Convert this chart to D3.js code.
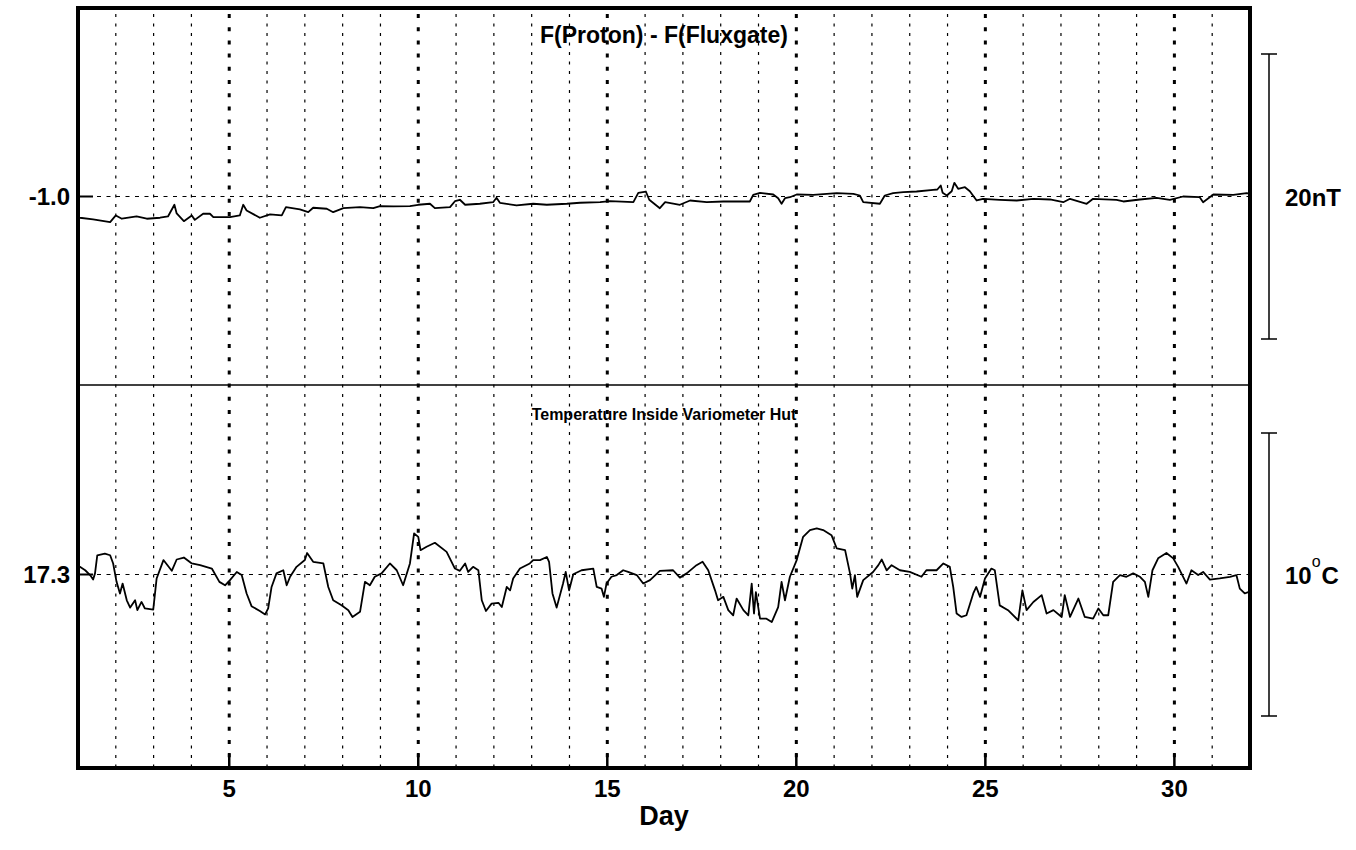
<!DOCTYPE html>
<meta charset="utf-8">
<html>
<style>
body { margin: 0; background: #fff; }
svg { display: block; }
text { font-family: Arial, "Liberation Sans", Helvetica, sans-serif; font-weight: bold; fill: #000; }
</style>
<svg width="1356" height="850"></svg>
<script src="https://d3js.org/d3.v7.min.js"></script>
<script>
// F(Proton) - F(Fluxgate) in nT, [day, value]
var diffSeries = [
  [1.00,-2.45],[1.05,-2.49],[1.40,-2.61],[1.85,-2.80],[2.00,-2.33],[2.16,-2.56],[2.55,-2.40],[2.82,-2.56],
  [3.17,-2.49],[3.38,-2.40],[3.55,-1.58],[3.61,-2.19],[3.80,-2.73],[4.01,-2.33],[4.09,-2.64],[4.31,-2.21],
  [4.49,-2.21],[4.58,-2.45],[5.02,-2.45],[5.28,-2.33],[5.37,-1.58],[5.46,-1.98],[5.81,-2.49],[6.08,-2.26],
  [6.39,-2.33],[6.50,-1.75],[6.87,-1.91],[7.09,-2.10],[7.22,-1.79],[7.58,-1.86],[7.75,-2.10],[8.02,-1.82],
  [8.46,-1.75],[8.81,-1.82],[8.99,-1.68],[9.34,-1.70],[9.78,-1.68],[10.00,-1.58],[10.31,-1.51],[10.44,-1.82],
  [10.84,-1.75],[10.97,-1.33],[11.10,-1.23],[11.24,-1.58],[11.63,-1.51],[11.98,-1.40],[12.07,-1.09],[12.16,-1.44],
  [12.60,-1.63],[13.04,-1.51],[13.40,-1.58],[13.93,-1.51],[14.28,-1.44],[14.81,-1.40],[15.07,-1.33],[15.69,-1.40],
  [15.82,-0.74],[16.02,-0.65],[16.11,-1.23],[16.39,-1.82],[16.53,-1.40],[16.92,-1.58],[17.19,-1.28],[17.63,-1.40],
  [18.07,-1.35],[18.77,-1.35],[18.86,-0.88],[19.04,-0.74],[19.39,-0.86],[19.52,-1.12],[19.61,-1.51],[19.70,-1.12],
  [19.83,-1.05],[20.01,-0.86],[20.45,-0.88],[21.07,-0.77],[21.51,-0.81],[21.68,-0.93],[21.77,-1.40],[22.21,-1.51],
  [22.34,-0.93],[22.56,-0.77],[22.83,-0.70],[23.18,-0.65],[23.62,-0.53],[23.73,-0.51],[23.82,-0.23],[23.87,-0.74],
  [23.98,-0.93],[24.11,-0.63],[24.18,-0.04],[24.28,-0.46],[24.46,-0.35],[24.59,-0.63],[24.77,-1.28],[24.94,-1.16],
  [25.38,-1.23],[25.83,-1.28],[26.27,-1.16],[26.71,-1.21],[27.06,-1.40],[27.24,-1.16],[27.68,-1.51],[27.85,-1.16],
  [28.47,-1.23],[28.65,-1.35],[29.09,-1.21],[29.53,-1.09],[29.88,-1.23],[30.23,-1.00],[30.67,-1.05],[30.76,-1.40],
  [31.03,-0.86],[31.56,-0.88],[31.91,-0.77],[32.00,-0.80]
];

// temperature inside variometer hut in deg C, [day, value]
var tempSeries = [
  [1.00,17.55],[1.05,17.57],[1.19,17.45],[1.32,17.28],[1.40,17.12],[1.45,17.34],[1.51,17.98],[1.71,18.04],
  [1.85,17.98],[1.93,17.69],[2.02,17.04],[2.11,16.63],[2.18,16.98],[2.29,16.39],[2.38,16.13],[2.51,16.39],
  [2.57,16.04],[2.68,16.33],[2.77,16.10],[2.99,16.06],[3.08,17.16],[3.26,17.81],[3.48,17.43],[3.61,17.83],
  [3.80,17.90],[4.01,17.69],[4.23,17.63],[4.54,17.51],[4.74,17.04],[4.89,16.92],[5.02,17.10],[5.20,17.39],
  [5.33,17.28],[5.46,16.63],[5.59,16.18],[5.81,16.01],[5.95,15.89],[6.03,16.10],[6.12,16.86],[6.25,17.34],
  [6.43,17.45],[6.52,16.92],[6.61,17.22],[6.78,17.57],[7.00,17.81],[7.06,18.06],[7.22,17.75],[7.49,17.69],
  [7.62,16.86],[7.75,16.39],[7.97,16.21],[8.15,16.04],[8.26,15.80],[8.46,15.98],[8.59,17.04],[8.72,16.92],
  [8.85,17.22],[9.03,17.34],[9.25,17.69],[9.43,17.45],[9.60,16.92],[9.78,17.69],[9.89,18.75],[10.00,18.63],
  [10.06,18.16],[10.22,18.28],[10.44,18.42],[10.75,18.10],[10.97,17.51],[11.10,17.43],[11.24,17.69],[11.32,17.39],
  [11.45,17.57],[11.59,17.45],[11.68,16.39],[11.79,16.01],[11.94,16.27],[12.12,16.30],[12.21,16.15],[12.34,16.86],
  [12.43,16.74],[12.51,17.16],[12.69,17.51],[12.95,17.69],[13.04,17.81],[13.22,17.81],[13.40,17.92],[13.46,17.75],
  [13.55,16.63],[13.66,16.13],[13.83,16.98],[13.90,17.39],[13.99,16.74],[14.10,17.31],[14.32,17.45],[14.63,17.51],
  [14.72,16.86],[14.85,16.80],[14.91,16.51],[14.98,16.98],[15.11,17.22],[15.25,17.28],[15.42,17.45],[15.55,17.39],
  [15.78,17.28],[15.95,16.98],[16.13,17.10],[16.39,17.43],[16.74,17.45],[16.92,17.19],[17.10,17.34],[17.36,17.63],
  [17.52,17.75],[17.67,17.45],[17.85,16.74],[17.93,16.39],[18.07,16.51],[18.20,16.04],[18.33,15.86],[18.42,16.45],
  [18.60,16.04],[18.73,15.86],[18.82,16.98],[18.88,15.92],[18.93,16.68],[19.04,15.74],[19.21,15.74],[19.35,15.62],
  [19.52,16.15],[19.61,17.04],[19.70,16.39],[19.83,17.22],[20.01,17.81],[20.18,18.63],[20.36,18.87],[20.54,18.93],
  [20.71,18.87],[20.93,18.69],[21.07,18.22],[21.29,18.16],[21.42,17.34],[21.48,16.80],[21.55,17.28],[21.61,16.51],
  [21.77,17.10],[22.03,17.39],[22.17,17.63],[22.26,17.83],[22.39,17.45],[22.52,17.63],[22.74,17.45],[23.00,17.39],
  [23.31,17.22],[23.44,17.45],[23.71,17.45],[23.89,17.69],[24.06,17.57],[24.15,16.86],[24.24,15.92],[24.37,15.80],
  [24.50,15.86],[24.68,16.63],[24.76,16.86],[24.86,16.51],[24.99,17.16],[25.16,17.51],[25.25,17.45],[25.38,16.21],
  [25.60,16.04],[25.87,15.68],[25.98,16.74],[26.09,16.04],[26.27,16.33],[26.49,16.57],[26.62,15.92],[26.80,16.04],
  [27.02,15.80],[27.10,16.57],[27.24,15.80],[27.46,16.45],[27.63,15.80],[27.85,15.74],[27.99,16.10],[28.12,15.86],
  [28.25,15.86],[28.38,17.04],[28.56,17.28],[28.73,17.22],[28.91,17.34],[29.09,17.22],[29.22,17.04],[29.31,16.51],
  [29.42,17.45],[29.57,17.87],[29.79,18.06],[29.97,17.87],[30.10,17.57],[30.32,16.98],[30.45,17.45],[30.63,17.28],
  [30.76,17.39],[30.94,17.12],[31.20,17.16],[31.47,17.22],[31.64,17.28],[31.73,16.80],[31.86,16.63],[31.95,16.68]
];

var dayDomain = [1, 32];
var dayTicks = [5, 10, 15, 20, 25, 30];
var diffBase = -1.0, diffSpan = 20;   // nT
var tempBase = 17.3, tempSpan = 10;   // deg C

// note: "top" is a reserved window property, so use plot* names
var plotL = 78, plotR = 1250, plotT = 8, plotB = 768, plotMid = 385;

var svg = d3.select("svg");

var x = d3.scaleLinear().domain(dayDomain).range([plotL, plotR]);
var yDiff = d3.scaleLinear().domain([diffBase - diffSpan / 2, diffBase + diffSpan / 2]).range([339, 54]);
var yTemp = d3.scaleLinear().domain([tempBase - tempSpan / 2, tempBase + tempSpan / 2]).range([716, 433]);

var fmt = v => d3.format(".1f")(v).replace("\u2212", "-");

// vertical day grid
var gridDays = d3.range(dayDomain[0] + 1, dayDomain[1]);
svg.append("g")
  .selectAll("line")
  .data(gridDays)
  .join("line")
    .attr("x1", d => x(d)).attr("x2", d => x(d))
    .attr("y1", plotT + 6).attr("y2", plotB)
    .attr("stroke", "#000")
    .attr("stroke-width", d => d % 5 === 0 ? 3 : 1.2)
    .attr("stroke-dasharray", d => d % 5 === 0 ? "4,9.2" : "3,6.5");

// baseline reference lines
[[yDiff, diffBase], [yTemp, tempBase]].forEach(function(p) {
  var yy = p[0](p[1]);
  svg.append("line")
    .attr("x1", plotL).attr("x2", plotR).attr("y1", yy).attr("y2", yy)
    .attr("stroke", "#000").attr("stroke-width", 1.2).attr("stroke-dasharray", "4,5.5");
  svg.append("line")
    .attr("x1", plotL).attr("x2", plotL + 15).attr("y1", yy).attr("y2", yy)
    .attr("stroke", "#000").attr("stroke-width", 2);
  svg.append("text")
    .attr("x", plotL - 8).attr("y", yy + 8)
    .attr("text-anchor", "end")
    .style("font-size", "24px")
    .text(fmt(p[1]));
});

// major tick stubs on the day axis
svg.append("g")
  .selectAll("line")
  .data(dayTicks)
  .join("line")
    .attr("x1", d => x(d)).attr("x2", d => x(d))
    .attr("y1", plotB).attr("y2", plotB - 15)
    .attr("stroke", "#000").attr("stroke-width", 2.5);

svg.append("g")
  .selectAll("text")
  .data(dayTicks)
  .join("text")
    .attr("x", d => x(d)).attr("y", 797)
    .attr("text-anchor", "middle")
    .style("font-size", "24px")
    .text(d => d);

svg.append("text")
  .attr("x", (plotL + plotR) / 2).attr("y", 825)
  .attr("text-anchor", "middle")
  .style("font-size", "27px")
  .text("Day");

// traces
var lineDiff = d3.line().x(d => x(d[0])).y(d => yDiff(d[1]));
var lineTemp = d3.line().x(d => x(d[0])).y(d => yTemp(d[1]));

svg.append("path").datum(diffSeries)
  .attr("d", lineDiff).attr("fill", "none").attr("stroke", "#000").attr("stroke-width", 1.8)
  .attr("stroke-linejoin", "round");
svg.append("path").datum(tempSeries)
  .attr("d", lineTemp).attr("fill", "none").attr("stroke", "#000").attr("stroke-width", 1.8)
  .attr("stroke-linejoin", "round");

// panel divider and frame
svg.append("line")
  .attr("x1", plotL).attr("x2", plotR).attr("y1", plotMid).attr("y2", plotMid)
  .attr("stroke", "#000").attr("stroke-width", 1.5);
svg.append("rect")
  .attr("x", plotL).attr("y", plotT).attr("width", plotR - plotL).attr("height", plotB - plotT)
  .attr("fill", "none").attr("stroke", "#000").attr("stroke-width", 4);

// panel titles
svg.append("text")
  .attr("x", (plotL + plotR) / 2).attr("y", 43)
  .attr("text-anchor", "middle").style("font-size", "23px")
  .text("F(Proton) - F(Fluxgate)");
svg.append("text")
  .attr("x", (plotL + plotR) / 2).attr("y", 420)
  .attr("text-anchor", "middle").style("font-size", "16px")
  .text("Temperature Inside Variometer Hut");

// scale bars on the right
var barX = 1269;
function scaleBar(y, base, span) {
  var y0 = y(base - span / 2), y1 = y(base + span / 2);
  var g = svg.append("g").attr("stroke", "#000").attr("stroke-width", 1.5);
  g.append("line").attr("x1", barX).attr("x2", barX).attr("y1", y0).attr("y2", y1);
  g.append("line").attr("x1", barX - 8).attr("x2", barX + 8).attr("y1", y0).attr("y2", y0);
  g.append("line").attr("x1", barX - 8).attr("x2", barX + 8).attr("y1", y1).attr("y2", y1);
}
scaleBar(yDiff, diffBase, diffSpan);
scaleBar(yTemp, tempBase, tempSpan);

svg.append("text")
  .attr("x", 1285).attr("y", yDiff(diffBase) + 9)
  .style("font-size", "24px")
  .text(diffSpan + "nT");

var tl = svg.append("text")
  .attr("x", 1285).attr("y", yTemp(tempBase) + 9)
  .style("font-size", "24px");
tl.append("tspan").text(tempSpan);
tl.append("tspan").attr("dx", 0).attr("dy", -17).style("font-size", "16px").style("font-weight", "normal").text("o");
tl.append("tspan").attr("dx", 1).attr("dy", 17).text("C");
</script>
</html>
